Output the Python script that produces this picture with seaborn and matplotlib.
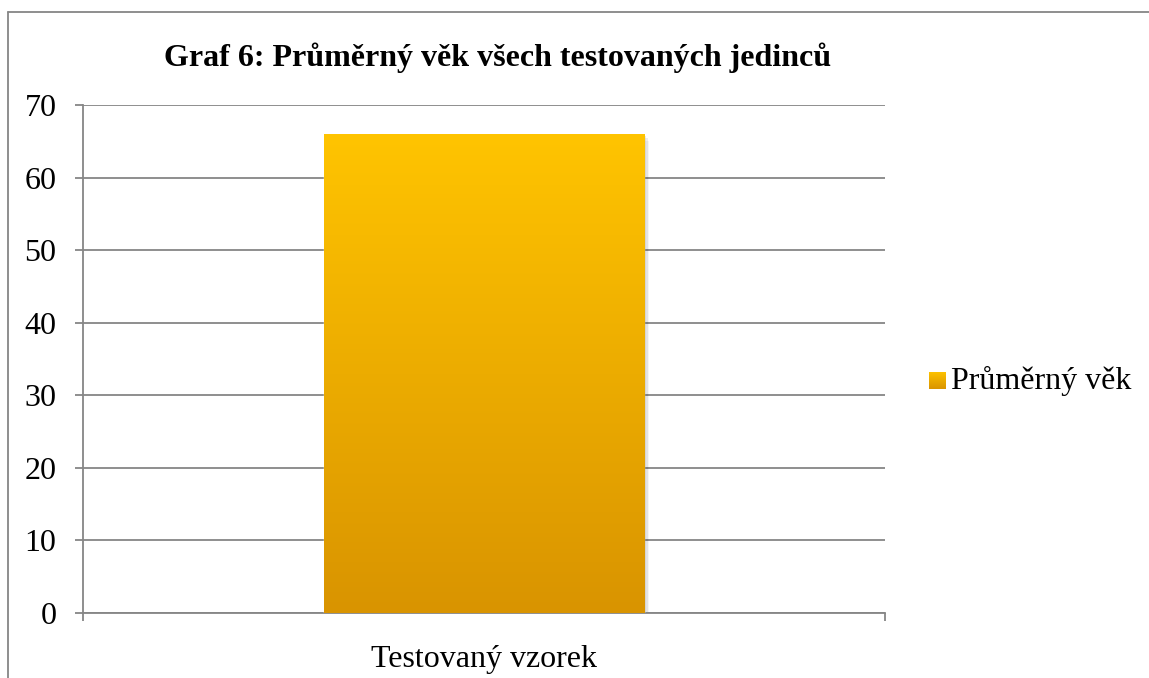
import numpy as np
import pandas as pd
import matplotlib
matplotlib.use("Agg")
import matplotlib.pyplot as plt
import seaborn as sns
from matplotlib.patches import Rectangle
from matplotlib.colors import LinearSegmentedColormap

categories = ["Testovaný vzorek"]
values = [66]
series_name = "Průměrný věk"
title = "Graf 6: Průměrný věk všech testovaných jedinců"
yticks = [0, 10, 20, 30, 40, 50, 60, 70]

sns.set_theme(style="white")
plt.rcParams["font.family"] = ["Liberation Serif", "DejaVu Serif"]
plt.rcParams["text.color"] = "black"

FS = 23
W, H = 1149, 678
fig = plt.figure(figsize=(W / 100, H / 100), dpi=100)
ax = fig.add_axes([83 / W, 1 - 613 / H, (885 - 83) / W, (613 - 105) / H])

df = pd.DataFrame({"cat": categories, "val": values})
sns.barplot(data=df, x="cat", y="val", ax=ax, color="#FFC000", width=0.4, zorder=3)

grey = "#868686"
ax.set_ylim(0, 70)
ax.set_xlim(-0.5, 0.5)
ax.set_yticks(yticks)
ax.yaxis.grid(True, color=grey, linewidth=1.3, zorder=0)
ax.set_axisbelow(True)
for s in ["top", "right"]:
    ax.spines[s].set_visible(False)
for s in ["left", "bottom"]:
    ax.spines[s].set_color(grey)
    ax.spines[s].set_linewidth(1.3)
ax.tick_params(axis="y", which="major", left=True, length=6, color=grey, width=1.3,
               labelsize=FS, pad=13, labelcolor="black")
ax.set_xticks([0])
ax.set_xticklabels(categories)
ax.tick_params(axis="x", which="major", bottom=False, labelsize=FS, pad=17, labelcolor="black")
ax.set_xticks([-0.5, 0.5], minor=True)
ax.tick_params(axis="x", which="minor", bottom=True, length=6, color=grey, width=1.3)
ax.set_xlabel("")
ax.set_ylabel("")

cmap = LinearSegmentedColormap.from_list("g", ["#D99400", "#FFC400"])
grad = np.linspace(0, 1, 256).reshape(-1, 1)
for p in ax.patches:
    x0, y0 = p.get_x(), p.get_y()
    w, h = p.get_width(), p.get_height()
    # soft shadow
    for i, a in enumerate([0.10, 0.07, 0.04]):
        sh = Rectangle((x0 + 0.002 * (i + 1), y0), w, h - 0.3 * (i + 1), facecolor="black",
                       alpha=a, edgecolor="none", zorder=2)
        ax.add_patch(sh)
    im = ax.imshow(grad, extent=[x0, x0 + w, y0, y0 + h], origin="lower", cmap=cmap,
                   aspect="auto", zorder=3.5)
    im.set_clip_path(p)
ax.set_xlim(-0.5, 0.5)
ax.set_ylim(0, 70)

fig.suptitle(title, x=498 / W, y=1 - 58 / H, fontsize=FS, fontweight="bold",
             va="center", color="black")

# legend
lx, ly = 929 / W, 1 - 381 / H
sw = 17
legax = fig.add_axes([lx, ly - sw / 2 / H, sw / W, sw / H])
legax.imshow(grad, origin="lower", cmap=cmap, aspect="auto", extent=[0, 1, 0, 1])
legax.set_axis_off()
fig.text(951 / W, ly, series_name, fontsize=FS, va="center", ha="left")

# chart border (left and top only visible)
fig.add_artist(plt.Line2D([8 / W, 8 / W], [0, 1 - 12 / H], transform=fig.transFigure,
                          color=grey, linewidth=1.3))
fig.add_artist(plt.Line2D([8 / W, 1], [1 - 12 / H, 1 - 12 / H], transform=fig.transFigure,
                          color=grey, linewidth=1.3))

fig.savefig("out.png", dpi=100, facecolor="white")
